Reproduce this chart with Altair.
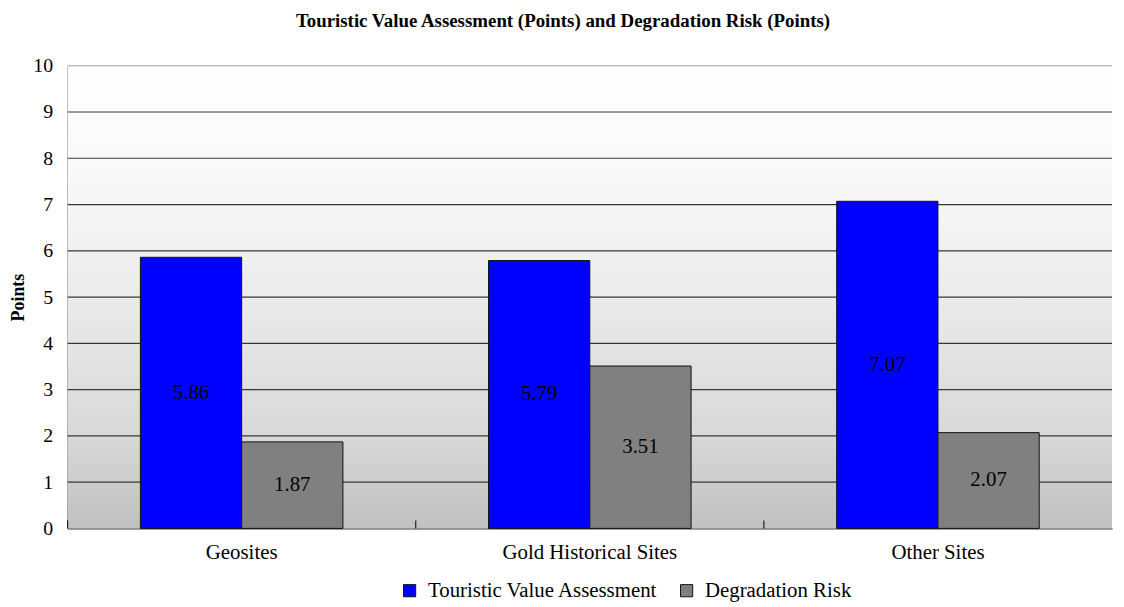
import altair as alt
import pandas as pd

categories = ["Geosites", "Gold Historical Sites", "Other Sites"]
series = ["Touristic Value Assessment", "Degradation Risk"]
tourist_values = [5.86, 5.79, 7.07]
risk_values = [1.87, 3.51, 2.07]
grid_values = [1, 2, 3, 4, 5, 6, 7, 8, 9, 10]
colors = ["#0000ff", "#808080"]

W, H = 1052, 466
FONT = "Liberation Serif"

rows = []
for c, t, r in zip(categories, tourist_values, risk_values):
    rows.append({"cat": c, "series": series[0], "value": t})
    rows.append({"cat": c, "series": series[1], "value": r})
df = pd.DataFrame(rows)
df["label"] = df["value"].map(lambda v: f"{v:.2f}")
grid_df = pd.DataFrame({"g": grid_values})
cat_df = pd.DataFrame({"cat": categories})
bg_df = pd.DataFrame({"a": [0]})

xscale = alt.Scale(domain=categories, paddingInner=0, paddingOuter=0)
yscale = alt.Scale(domain=[0, 10])
offscale = alt.Scale(domain=series, paddingOuter=0.719, paddingInner=0)
colscale = alt.Scale(domain=series, range=colors)

bg = alt.Chart(bg_df).mark_rect(
    fill=alt.LinearGradient(
        gradient="linear", x1=0, y1=0, x2=0, y2=1,
        stops=[
            alt.GradientStop(color="#ffffff", offset=0),
            alt.GradientStop(color="#f6f6f6", offset=0.3),
            alt.GradientStop(color="#ebebeb", offset=0.5),
            alt.GradientStop(color="#d8d8d8", offset=0.8),
            alt.GradientStop(color="#c0c0c0", offset=1),
        ],
    )
).encode(x=alt.value(0), x2=alt.value(W), y=alt.value(0), y2=alt.value(H))

grid = alt.Chart(grid_df).mark_rule(strokeWidth=1.2).encode(
    y=alt.Y("g:Q", scale=yscale),
    x=alt.value(0),
    x2=alt.value(W),
    color=alt.condition("datum.g == 10", alt.value("#a0a0a0"), alt.value("#383838")),
)

bars = alt.Chart(df).mark_bar(stroke="#111111", strokeWidth=1).encode(
    x=alt.X("cat:N", scale=xscale, sort=categories,
            axis=alt.Axis(title=None, labelAngle=0, ticks=False, domainColor="#000000",
                          labelFont=FONT, labelFontSize=21, labelColor="#000000",
                          labelPadding=13)),
    xOffset=alt.XOffset("series:N", scale=offscale, sort=series),
    y=alt.Y("value:Q", scale=yscale,
            axis=alt.Axis(title="Points", values=[0,1,2,3,4,5,6,7,8,9,10], grid=False,
                          ticks=False, domainColor="#000000", labelFont=FONT,
                          labelFontSize=20, labelColor="#000000", labelPadding=15,
                          titleFont=FONT, titleFontSize=18, titleFontWeight="bold",
                          titleColor="#000000", titlePadding=5)),
    color=alt.Color("series:N", scale=colscale, sort=series,
                    legend=alt.Legend(title=None, orient="none", direction="horizontal",
                                      legendX=334, legendY=518, symbolType="square",
                                      symbolSize=150, symbolStrokeColor="#111111",
                                      symbolStrokeWidth=1, labelFont=FONT,
                                      labelFontSize=21, labelColor="#000000",
                                      labelLimit=0, labelOffset=8, columnPadding=18)),
)

text = alt.Chart(df).transform_calculate(half="datum.value / 2").mark_text(
    font=FONT, fontSize=21, color="#000000", baseline="middle"
).encode(
    x=alt.X("cat:N", scale=xscale, sort=categories),
    xOffset=alt.XOffset("series:N", scale=offscale, sort=series),
    y=alt.Y("half:Q", scale=yscale),
    text="label:N",
)

ticks = alt.Chart(cat_df).mark_rule(color="#202020", strokeWidth=1.2).encode(
    x=alt.X("cat:N", scale=xscale, sort=categories, bandPosition=0),
    y=alt.value(H - 8),
    y2=alt.value(H),
)

chart = alt.layer(bg, grid, bars, text, ticks).properties(
    width=W, height=H,
    title=alt.TitleParams(
        "Touristic Value Assessment (Points) and Degradation Risk (Points)",
        font=FONT, fontSize=19, fontWeight="bold", color="#000000",
        dx=-27, offset=25,
    ),
    autosize=alt.AutoSizeParams(type="none"),
    padding={"left": 60, "top": 56, "right": 4, "bottom": 76},
).configure_view(stroke=None)

chart.save("out.html", embed_options={"renderer": "svg", "actions": False})
